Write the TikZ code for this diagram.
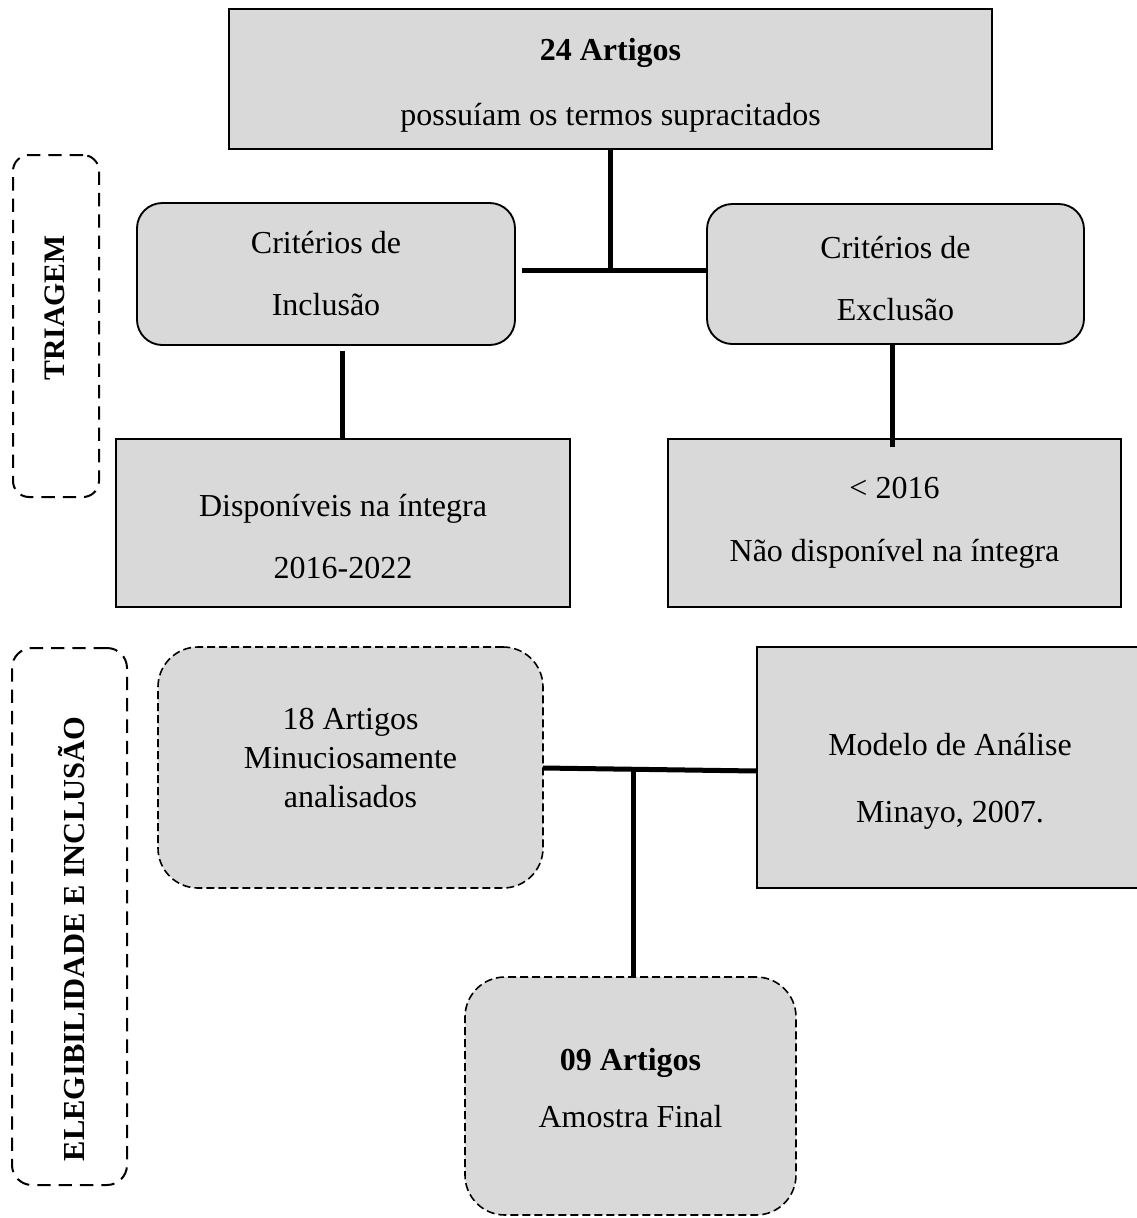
\documentclass[tikz,border=0pt]{standalone}
\usepackage{fontspec}
\setmainfont{Liberation Serif}
\begin{document}
\begin{tikzpicture}[x=0.75pt,y=-0.75pt,
  wh/.style 2 args={minimum width=#1*0.75pt, minimum height=#2*0.75pt, inner sep=0pt},
  sq/.style={draw=black, fill=boxgray, line width=1.4pt, rectangle, align=center},
  rnd/.style={sq, rounded corners=19pt},
  dbox/.style={draw=black, fill=boxgray, line width=1.2pt, dash pattern=on 6pt off 3pt, rounded corners=30pt, align=center},
  stage/.style={draw=black, line width=1.5pt, dash pattern=on 10pt off 6pt, rounded corners=#1, inner sep=0pt},
  ls/.style={font=\fontsize{24}{#1}\selectfont},
  lab/.style={font=\fontsize{#1}{26}\selectfont\bfseries, rotate=90, inner sep=0pt},
  conn/.style={line width=3.75pt}
]
\definecolor{boxgray}{HTML}{D9D9D9}
\useasboundingbox (0,0) rectangle (1137,1218);
% stage frames
\node[stage=12pt, wh={86}{342}] (tri) at (56,326) {};
\node[lab=22.3] (trilab) at (55,308) {TRIAGEM};
\node[stage=15pt, wh={115}{537}] (ele) at (69.5,916.5) {};
\node[lab=22.9] (elelab) at (72,939) {ELEGIBILIDADE E INCLUSÃO};
% boxes
\node[sq, wh={763}{140}, ls=49, text height=75pt] (top) at (610.5,79) {\textbf{24 Artigos}\\possuíam os termos supracitados};
\node[rnd, wh={378}{142}, ls=46.5] (incl) at (326,274) {Critérios de\\Inclusão};
\node[rnd, wh={377}{140}, ls=46.5, text height=70pt] (excl) at (895.5,274) {Critérios de\\Exclusão};
\node[sq, wh={454}{168}, ls=46.5, text height=83.8pt] (disp) at (343,523) {Disponíveis na íntegra\\2016-2022};
\node[sq, wh={453}{168}, ls=47] (lt) at (894.5,523) {< 2016\\Não disponível na íntegra};
\node[dbox, wh={385}{241}, ls=29.25, text depth=15pt] (a18) at (350.5,767.5) {18 Artigos\\Minuciosamente\\analisados};
\node[sq, wh={386}{241}, ls=50, text height=87.4pt] (mod) at (950,767.5) {Modelo de Análise\\Minayo, 2007.};
\node[dbox, wh={331}{238}, ls=43, text depth=12pt] (a09) at (630.5,1096) {\textbf{09 Artigos}\\Amostra Final};
% connector points
\coordinate (j1) at (610,270);
\coordinate (h1) at (522,270);
\coordinate (h2) at (543,768);
\coordinate (h3) at (757,771);
\coordinate (j2) at (633,769.5);
% connectors
\draw[conn] (top.south -| j1) -- (j1);
\draw[conn] (h1) -- (excl.west |- h1);
\draw[conn] ([yshift=-5*0.75pt]incl.south -| 342,0) -- (disp.north -| 342,0);
\draw[conn] (excl.south -| 892,0) -- ([yshift=-9*0.75pt]lt.north -| 892,0);
\draw[conn] (h2) -- (h3);
\draw[conn] (j2) -- (a09.north -| j2);
\end{tikzpicture}
\end{document}
